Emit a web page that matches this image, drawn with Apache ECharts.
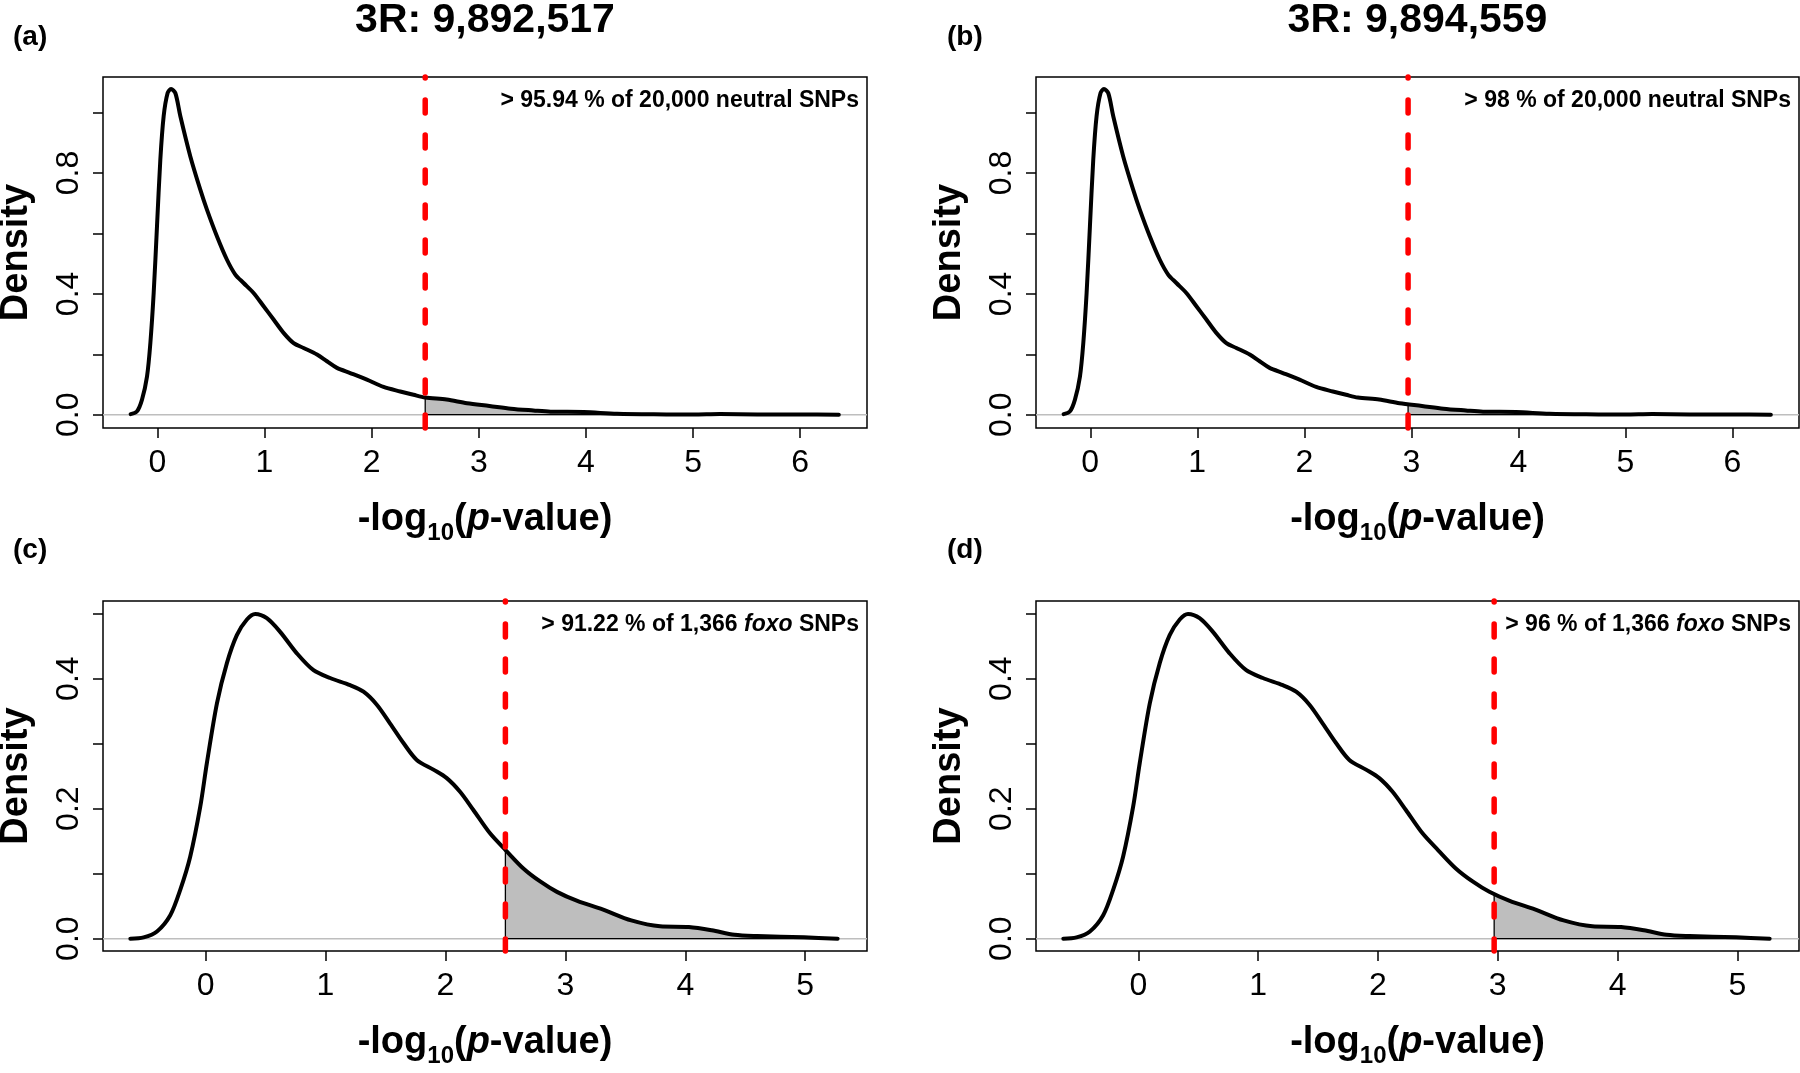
<!DOCTYPE html>
<html><head><meta charset="utf-8">
<script src="https://cdn.jsdelivr.net/npm/echarts@6/dist/echarts.min.js"></script>
<style>html,body{margin:0;padding:0;background:#fff}#c{width:1800px;height:1073px}</style>
</head><body><div id="c"></div>
<script>
// ---------- data ----------
const neutralX = [-0.249,-0.19,-0.143,-0.096,-0.065,-0.034,-0.003,0.028,0.059,0.096,0.128,0.168,0.215,0.308,0.401,0.463,0.557,0.650,0.728,0.805,0.898,0.992,1.085,1.178,1.272,1.365,1.49,1.583,1.676,1.80,1.956,2.111,2.267,2.391,2.5,2.70,2.89,3.1,3.3,3.51,3.67,3.98,4.29,4.75,5.0,5.25,5.6,6.0,6.36];
const neutralY = [0.002,0.011,0.05,0.127,0.237,0.403,0.624,0.844,0.988,1.065,1.078,1.065,0.988,0.855,0.745,0.679,0.590,0.513,0.464,0.436,0.403,0.359,0.315,0.271,0.237,0.221,0.199,0.177,0.155,0.138,0.116,0.092,0.077,0.066,0.057,0.050,0.038,0.029,0.020,0.014,0.010,0.009,0.003,0.001,0.0005,0.002,0.001,0.0005,0.0];
const foxoX = [-0.627,-0.516,-0.405,-0.294,-0.211,-0.128,-0.044,0.011,0.095,0.178,0.261,0.345,0.414,0.511,0.622,0.761,0.90,1.039,1.206,1.317,1.428,1.539,1.65,1.761,1.90,2.011,2.122,2.233,2.372,2.503,2.65,2.79,2.93,3.1,3.31,3.55,3.79,4.03,4.22,4.41,4.6,4.99,5.27];
const foxoY = [0.0,0.002,0.011,0.036,0.075,0.126,0.203,0.270,0.362,0.424,0.467,0.491,0.4995,0.493,0.472,0.439,0.413,0.401,0.390,0.380,0.360,0.331,0.301,0.275,0.260,0.247,0.226,0.198,0.162,0.136,0.108,0.088,0.072,0.058,0.045,0.028,0.019,0.018,0.013,0.006,0.004,0.002,0.0];

const panelLetters = ['(a)','(b)','(c)','(d)'];
const panelTitles = ['3R: 9,892,517','3R: 9,894,559','',''];
const thresholds = [2.5, 2.97, 2.5, 2.97];
const percents = ['95.94','98','91.22','96'];
const snpCounts = ['20,000','20,000','1,366','1,366'];
const snpTypes = ['neutral','neutral','foxo','foxo'];
const snpTypeItalic = [false,false,true,true];
const neutralXTicks = [0,1,2,3,4,5,6];
const foxoXTicks = [0,1,2,3,4,5];
const neutralYTicks = [0,0.2,0.4,0.6,0.8,1.0];
const neutralYLabels = [0,0.4,0.8];
const foxoYTicks = [0,0.1,0.2,0.3,0.4,0.5];
const foxoYLabels = [0,0.2,0.4];
const yName = 'Density';

// ---------- layout ----------
const F = '"Liberation Sans", Arial, Helvetica, sans-serif';
const grids = [
  {left:103, top:77, width:764, height:351},
  {left:1036, top:77, width:763, height:351},
  {left:103, top:601, width:764, height:350},
  {left:1036, top:601, width:763, height:350}
];
const ranges = [
  {xMin:-0.507,xMax:6.623,yMin:-0.044,yMax:1.118},
  {xMin:-0.507,xMax:6.623,yMin:-0.044,yMax:1.118},
  {xMin:-0.855,xMax:5.515,yMin:-0.019,yMax:0.5195},
  {xMin:-0.855,xMax:5.515,yMin:-0.019,yMax:0.5195}
];
const curves = [[neutralX,neutralY],[neutralX,neutralY],[foxoX,foxoY],[foxoX,foxoY]];
const xTicksAll = [neutralXTicks,neutralXTicks,foxoXTicks,foxoXTicks];
const yTicksAll = [neutralYTicks,neutralYTicks,foxoYTicks,foxoYTicks];
const yLabelsAll = [neutralYLabels,neutralYLabels,foxoYLabels,foxoYLabels];

function interp(xs, ys, t){
  for(let i=1;i<xs.length;i++){
    if(xs[i]>=t){const f=(t-xs[i-1])/(xs[i]-xs[i-1]);return ys[i-1]+f*(ys[i]-ys[i-1]);}
  }
  return ys[ys.length-1];
}

const option = {
  animation:false,
  backgroundColor:'#fff',
  grid: grids.map(g=>Object.assign({show:true,borderColor:'#000',borderWidth:1.5,backgroundColor:'transparent'},g)),
  xAxis: [], yAxis: [], series: [], graphic: []
};

for(let p=0;p<4;p++){
  const r = ranges[p], g = grids[p];
  option.xAxis.push({type:'value',gridIndex:p,min:r.xMin,max:r.xMax,
    axisLine:{show:false,onZero:false},splitLine:{show:false},
    axisTick:{show:true,inside:false,length:10,customValues:xTicksAll[p],lineStyle:{color:'#000',width:1.5}},
    axisLabel:{customValues:xTicksAll[p],margin:19,fontFamily:F,fontSize:32,color:'#000'}});
  option.yAxis.push({type:'value',gridIndex:p,min:r.yMin,max:r.yMax,
    axisLine:{show:false,onZero:false},splitLine:{show:false},
    axisTick:{show:true,inside:false,length:10,customValues:yTicksAll[p],lineStyle:{color:'#000',width:1.5}},
    axisLabel:{customValues:yLabelsAll[p],rotate:90,margin:18,fontFamily:F,fontSize:32,color:'#000',
      formatter:v=>v.toFixed(1)}});
  const xs = curves[p][0], ys = curves[p][1], t = thresholds[p];
  // grey baseline at density 0
  option.series.push({type:'line',xAxisIndex:p,yAxisIndex:p,z:1,symbol:'none',silent:true,
    data:[[r.xMin,0],[r.xMax,0]],lineStyle:{color:'#BEBEBE',width:1.5}});
  // shaded tail polygon
  const poly = [[t,0],[t,interp(xs,ys,t)]];
  xs.forEach((x,i)=>{ if(x>t) poly.push([x,ys[i]]); });
  poly.push([xs[xs.length-1],0]);
  option.series.push({type:'custom',xAxisIndex:p,yAxisIndex:p,z:2,silent:true,
    data:[[t,0]],
    renderItem:(params,api)=>({type:'polygon',shape:{points:poly.map(q=>api.coord(q))},
      style:{fill:'#BEBEBE',stroke:'#000',lineWidth:1.3}})});
  // density curve
  option.series.push({type:'line',xAxisIndex:p,yAxisIndex:p,z:3,symbol:'none',smooth:0.3,silent:true,
    data:xs.map((x,i)=>[x,ys[i]]),lineStyle:{color:'#000',width:4,join:'round',cap:'round'}});
  // red dashed threshold (drawn top to bottom)
  option.series.push({type:'line',xAxisIndex:p,yAxisIndex:p,z:4,symbol:'none',silent:true,clip:false,
    data:[[t,r.yMax],[t,r.yMin]],
    lineStyle:{color:'#FF0000',width:5.5,type:[13,22],dashOffset:12,cap:'round'}});

  const cx = g.left + g.width/2, right = g.left + g.width, bottom = g.top + g.height;
  // panel letter
  option.graphic.push({type:'text',x:(p%2===0?13:947),y:(p<2?37:550),
    style:{text:panelLetters[p],fontFamily:F,fontSize:28,fontWeight:'bold',fill:'#000',verticalAlign:'middle'}});
  if(panelTitles[p]) option.graphic.push({type:'text',x:cx,y:21,
    style:{text:panelTitles[p],fontFamily:F,fontSize:41,fontWeight:'bold',fill:'#000',align:'center',verticalAlign:'middle'}});
  // x axis title
  option.graphic.push({type:'text',x:cx,y:bottom+92,
    style:{text:'{m|-log}{s|10}{m|(}{i|p}{m|-value)}',align:'center',verticalAlign:'middle',fill:'#000',
      rich:{m:{fontFamily:F,fontSize:38,fontWeight:'bold'},
            s:{fontFamily:F,fontSize:24,fontWeight:'bold',padding:[26,0,0,0]},
            i:{fontFamily:F,fontSize:38,fontWeight:'bold',fontStyle:'italic'}}}});
  // y axis title
  option.graphic.push({type:'text',x:g.left-86,y:g.top+g.height/2,rotation:Math.PI/2,
    style:{text:yName,fontFamily:F,fontSize:38,fontWeight:'bold',fill:'#000',align:'center',verticalAlign:'middle'}});
  // annotation
  const typeTxt = snpTypeItalic[p] ? '{i|'+snpTypes[p]+'}' : '{b|'+snpTypes[p]+'}';
  option.graphic.push({type:'text',x:right-8,y:g.top+24,
    style:{text:'{b|> '+percents[p]+' % of '+snpCounts[p]+' }'+typeTxt+'{b| SNPs}',align:'right',verticalAlign:'middle',fill:'#000',
      rich:{b:{fontFamily:F,fontSize:23,fontWeight:'bold'},i:{fontFamily:F,fontSize:23,fontWeight:'bold',fontStyle:'italic'}}}});
}

const chart = echarts.init(document.getElementById('c'),null,{renderer:'canvas'});
chart.setOption(option);
</script></body></html>
